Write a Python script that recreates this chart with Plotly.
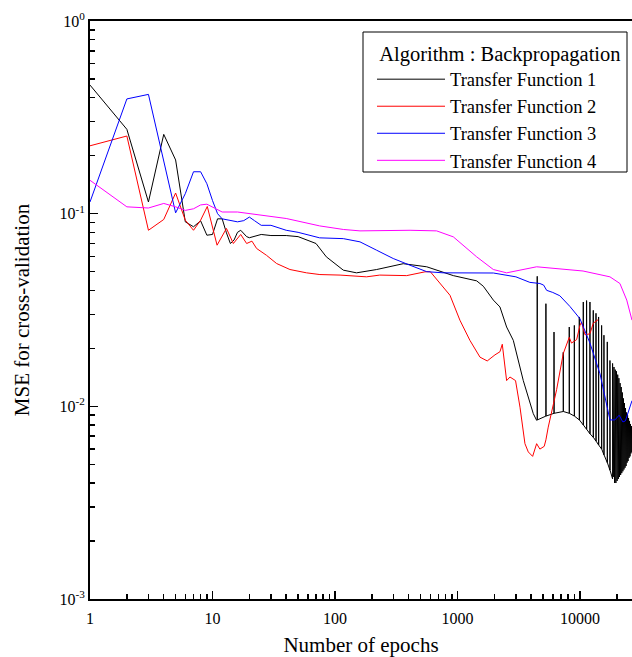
import plotly.graph_objects as go

# ---------------- data ----------------
tf1_epochs = [1, 2, 3, 4, 5, 6, 7, 8, 9, 10, 11, 12, 13, 14, 15, 16, 17, 18, 19, 20,
              25, 30, 40, 50, 60, 70, 85, 117, 150, 219, 361, 561, 925, 1435, 1626,
              1963, 2223, 2520, 2857, 3447, 4160, 4430]
tf1_values = [0.465, 0.274, 0.115, 0.258, 0.19, 0.0907, 0.0855, 0.0918, 0.0773, 0.078,
              0.094, 0.094, 0.0795, 0.070, 0.073, 0.080, 0.082, 0.079, 0.076, 0.075,
              0.078, 0.077, 0.077, 0.076, 0.073, 0.070, 0.0597, 0.0509, 0.0493, 0.0513,
              0.055, 0.053, 0.0477, 0.0448, 0.042, 0.0356, 0.0328, 0.0258, 0.022,
              0.0136, 0.00916, 0.00846]
# isolated spikes of transfer function 1 (epoch, spike top, curve value underneath)
tf1_spike_epochs = [4480, 5275, 6140, 7310, 8180, 9000, 9880, 10650, 11330, 12070,
                    12850, 13520, 14200, 15030, 15700, 16720, 17580, 18470]
tf1_spike_tops = [0.0473, 0.0341, 0.0243, 0.0191, 0.0258, 0.0263, 0.0291, 0.0348,
                  0.0354, 0.0348, 0.0315, 0.0304, 0.0291, 0.0263, 0.0234, 0.0216,
                  0.0173, 0.0167]
tf1_spike_bases = [0.0085, 0.0089, 0.0092, 0.0094, 0.0092, 0.0089, 0.0085, 0.0080,
                   0.0076, 0.0072, 0.0069, 0.0066, 0.0063, 0.0060, 0.0056, 0.0051,
                   0.00466, 0.0042]
# dense oscillating tail of transfer function 1
tf1_tail_epochs = [18500, 18730, 18960, 19190, 19420, 19650, 19880, 20110, 20340, 20570,
                   20800, 21030, 21260, 21490, 21720, 21950, 22180, 22410, 22640, 22870,
                   23100, 23330, 23560, 23790, 24020, 24250, 24480, 24710, 24940, 25170,
                   25400, 25630, 25860, 26090, 26320, 26550, 26780]
tf1_tail_values = [0.0166, 0.0043, 0.0160, 0.0040, 0.0155, 0.0040, 0.0152, 0.0041,
                   0.0146, 0.0042, 0.0140, 0.0043, 0.0132, 0.0044, 0.0126, 0.0045,
                   0.0118, 0.0046, 0.0110, 0.0047, 0.0104, 0.0048, 0.0098, 0.0049,
                   0.0093, 0.0051, 0.0090, 0.0052, 0.0087, 0.0054, 0.0084, 0.0055,
                   0.0081, 0.0057, 0.0079, 0.0058, 0.0077]

tf2_epochs = [1, 2, 3, 4, 5, 6, 7, 8, 9.07, 10.9, 13, 14.8, 17, 19, 21, 22.9, 27.6, 33.4,
              42.9, 58.6, 75.3, 110, 181, 232, 385, 543, 600, 816, 869, 1047, 1264, 1527,
              1750, 2024, 2223, 2323, 2520, 2683, 2980, 3240, 3556, 3786, 4110, 4430,
              4710, 5110, 5275, 5510, 5870, 6450, 7310, 7800, 8180, 8530, 9400, 10000,
              10300, 11000, 12070, 12850, 14100]
tf2_values = [0.225, 0.253, 0.082, 0.0933, 0.128, 0.0925, 0.082, 0.0925, 0.109, 0.0686,
              0.0838, 0.070, 0.078, 0.070, 0.072, 0.066, 0.0608, 0.0551, 0.0513, 0.0493,
              0.0483, 0.048, 0.047, 0.048, 0.0477, 0.0499, 0.050, 0.040, 0.0377, 0.028,
              0.022, 0.018, 0.0172, 0.0185, 0.0192, 0.021, 0.0136, 0.0142, 0.0136,
              0.0099, 0.0064, 0.0058, 0.0055, 0.0064, 0.0060, 0.0062, 0.0067, 0.0078,
              0.0092, 0.0122, 0.0188, 0.0213, 0.0228, 0.0213, 0.0222, 0.0263, 0.0274,
              0.0235, 0.0238, 0.0270, 0.0282]

tf3_epochs = [1, 2, 3, 4, 5, 6, 7, 8, 9, 10, 11, 12, 14, 16, 18, 20, 22, 25, 30, 40, 50,
              60, 75, 117, 160, 219, 299, 410, 561, 765, 1963, 3000, 3900, 4710, 5050,
              5350, 6000, 6850, 8280, 10000, 12070, 14560, 16500, 17580, 19300, 20900,
              22400, 23500, 26600]
tf3_values = [0.115, 0.394, 0.416, 0.19, 0.101, 0.127, 0.165, 0.165, 0.143, 0.117, 0.100,
              0.094, 0.0925, 0.0907, 0.092, 0.096, 0.092, 0.087, 0.087, 0.082, 0.080,
              0.0774, 0.0749, 0.0742, 0.0714, 0.0646, 0.0585, 0.054, 0.050, 0.0493,
              0.0492, 0.047, 0.0440, 0.0434, 0.0426, 0.040, 0.039, 0.0375, 0.0330,
              0.0285, 0.0213, 0.0148, 0.0103, 0.0085, 0.0085, 0.0090, 0.0083, 0.0084,
              0.0107]

tf4_epochs = [1, 2, 3, 4, 5, 6, 7, 8, 9, 10, 12, 16, 20, 25, 40, 75, 117, 160, 410, 676,
              925, 1435, 1963, 2520, 4430, 10600, 17580, 21200, 24100, 26600]
tf4_values = [0.149, 0.1085, 0.107, 0.113, 0.1085, 0.104, 0.106, 0.111, 0.112, 0.1085,
              0.102, 0.102, 0.100, 0.098, 0.0944, 0.0864, 0.0828, 0.0814, 0.082, 0.0814,
              0.0758, 0.0597, 0.0513, 0.0493, 0.053, 0.0504, 0.047, 0.0434, 0.0356, 0.028]

series_names = ["Transfer Function 1", "Transfer Function 2",
                "Transfer Function 3", "Transfer Function 4"]
series_colors = ["#000000", "#ff0000", "#0000ff", "#ff00ff"]

x_tick_vals = [1, 10, 100, 1000, 10000]
x_tick_text = ["1", "10", "100", "1000", "10000"]
y_tick_vals = [0.001, 0.01, 0.1, 1]
y_tick_text = ["10<sup>-3</sup>", "10<sup>-2</sup>", "10<sup>-1</sup>", "10<sup>0</sup>"]

# ---------------- build transfer function 1 sequence ----------------
tf1_x = list(tf1_epochs)
tf1_y = list(tf1_values)
for e, top, base in zip(tf1_spike_epochs, tf1_spike_tops, tf1_spike_bases):
    tf1_x += [e, e, e * 1.002]
    tf1_y += [base, top, base]
tf1_x += tf1_tail_epochs
tf1_y += tf1_tail_values

FONT = "Liberation Serif, Times New Roman, serif"
W, H = 632, 657
ML, MR, MT, MB = 90, 0, 21, 58
PW, PH = W - ML - MR, H - MT - MB


def px_x(p):
    return (p - ML) / PW


def px_y(p):
    return 1 - (p - MT) / PH


fig = go.Figure()
data = [(tf1_x, tf1_y), (tf2_epochs, tf2_values), (tf3_epochs, tf3_values),
        (tf4_epochs, tf4_values)]
for i in range(4):
    xs, ys = data[i]
    fig.add_trace(go.Scatter(x=xs, y=ys, mode="lines", name=series_names[i],
                             line=dict(color=series_colors[i], width=1),
                             hoverinfo="skip"))

minor_x = [m * 10 ** k for k in range(0, 5) for m in range(2, 10) if m * 10 ** k < 27000]
minor_y = [m * 10.0 ** k for k in range(-3, 0) for m in range(2, 10)]

# legend frame
fig.add_shape(type="rect", xref="paper", yref="paper",
              x0=px_x(363), x1=px_x(627), y0=px_y(172), y1=px_y(32),
              line=dict(color="black", width=1), fillcolor="white", layer="above")

fig.update_layout(
    width=W, height=H,
    margin=dict(l=ML, r=MR, t=MT, b=MB),
    paper_bgcolor="white", plot_bgcolor="white",
    font=dict(family=FONT, size=16, color="black"),
    showlegend=True,
    legend=dict(
        title=dict(text="\u00a0Algorithm : Backpropagation", font=dict(size=20.5, family=FONT)),
        font=dict(size=18.5, family=FONT),
        x=px_x(372), xanchor="left", y=px_y(34), yanchor="top",
        bgcolor="rgba(0,0,0,0)", borderwidth=0,
        tracegroupgap=0, itemwidth=68,
    ),
    xaxis=dict(
        type="log", range=[0, 4.425],
        showgrid=False, zeroline=False,
        showline=True, linecolor="black", linewidth=2, mirror=True,
        ticks="inside", ticklen=8, tickwidth=1.5, tickcolor="black",
        tickmode="array", tickvals=x_tick_vals, ticktext=x_tick_text,
        tickfont=dict(size=16, family=FONT),
        ticklabelstandoff=4,
        minor=dict(tickmode="array", tickvals=minor_x, ticks="inside", ticklen=5,
                   tickwidth=1.5, tickcolor="black", showgrid=False),
        title=dict(text="Number of epochs", font=dict(size=21, family=FONT), standoff=12),
    ),
    yaxis=dict(
        type="log", range=[-3, 0],
        showgrid=False, zeroline=False,
        showline=True, linecolor="black", linewidth=2, mirror=False,
        ticks="inside", ticklen=8, tickwidth=1.5, tickcolor="black",
        tickmode="array", tickvals=y_tick_vals, ticktext=y_tick_text,
        tickfont=dict(size=16, family=FONT),
        minor=dict(tickmode="array", tickvals=minor_y, ticks="inside", ticklen=5,
                   tickwidth=1.5, tickcolor="black", showgrid=False),
        title=dict(text="MSE for cross-validation", font=dict(size=21, family=FONT),
                   standoff=24),
    ),
)

fig.write_html("out.html",
               config={"displayModeBar": False, "staticPlot": True},
               post_script="document.body.style.margin='0px';"
                           "document.body.style.overflow='hidden';")
